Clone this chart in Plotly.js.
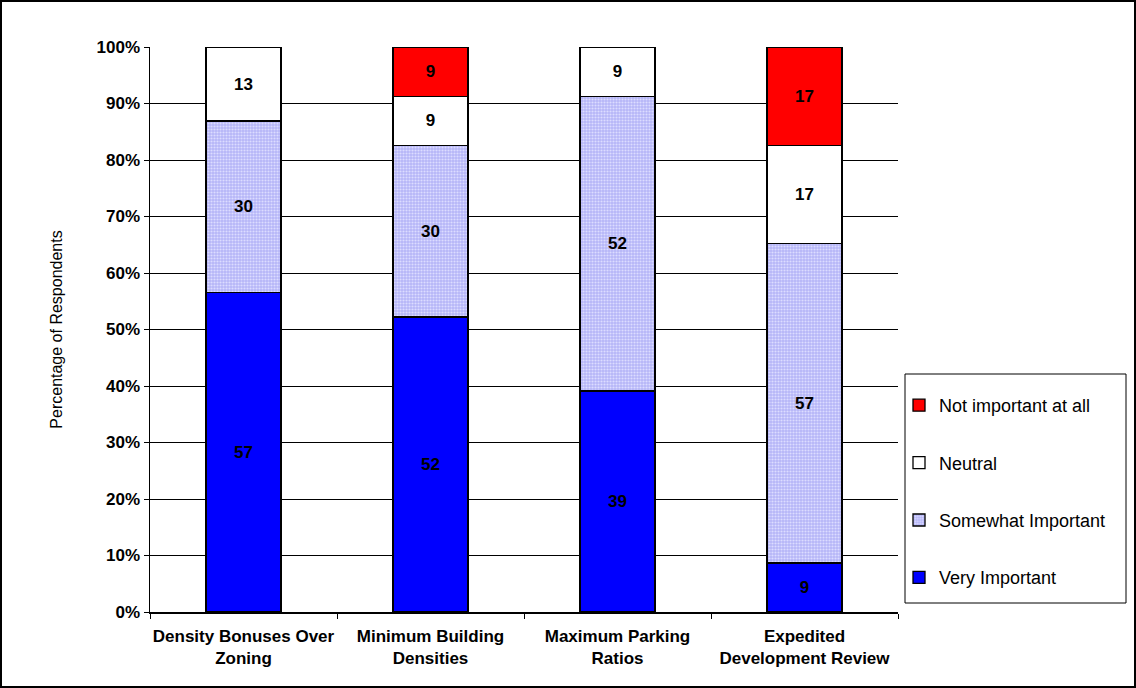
<!DOCTYPE html>
<html>
<head>
<meta charset="utf-8">
<script src="https://cdn.plot.ly/plotly-3.0.1.min.js"></script>
<style>
  html, body { margin: 0; padding: 0; background: #fff; }
  #frame { position: absolute; left: 0; top: 0; width: 1132px; height: 684px; border: 2px solid #000; pointer-events: none; }
  #chart { position: absolute; left: 0; top: 0; width: 1136px; height: 688px; }
</style>
</head>
<body>
<div id="chart"></div>
<div id="frame"></div>
<script>
const categories = [
  'Density Bonuses Over<br>Zoning',
  'Minimum Building<br>Densities',
  'Maximum Parking<br>Ratios',
  'Expedited<br>Development Review'
];
const veryImportant = [56.5, 52.2, 39.1, 8.7];
const somewhatImportant = [30.4, 30.4, 52.2, 56.5];
const neutral = [13.0, 8.7, 8.7, 17.4];
const notImportant = [null, 8.7, null, 17.4];
const yTickVals = [0, 10, 20, 30, 40, 50, 60, 70, 80, 90, 100];
const yTickText = ['0%', '10%', '20%', '30%', '40%', '50%', '60%', '70%', '80%', '90%', '100%'];

const FONT = 'Liberation Sans, Arial, sans-serif';
const lbl = arr => arr.map(v => (v == null ? '' : String(Math.round(v))));

function mk(name, vals, color, rank, extra) {
  const t = {
    type: 'bar', name: name, x: categories, y: vals,
    text: lbl(vals), textposition: 'inside', insidetextanchor: 'middle',
    textangle: 0, constraintext: 'none',
    textfont: { family: FONT, size: 17, color: '#000', weight: 'bold' },
    marker: { color: color, line: { color: '#000', width: 1.3 } },
    width: 0.4, legendgroup: name, legendrank: rank, hoverinfo: 'skip'
  };
  if (extra) Object.assign(t.marker, extra);
  return t;
}

const data = [
  mk('Very Important', veryImportant, '#0000ff', 4),
  mk('Somewhat Important', somewhatImportant, '#bcbcfa', 3,
     { pattern: { shape: '.', bgcolor: '#b6b6f8', fgcolor: '#dcdcff', size: 3, solidity: 0.4, fillmode: 'replace' } }),
  mk('Neutral', neutral, '#ffffff', 2),
  mk('Not important at all', notImportant, '#ff0000', 1)
];

const layout = {
  width: 1136, height: 688,
  margin: { l: 150, r: 238, t: 47, b: 76 },
  paper_bgcolor: '#fff', plot_bgcolor: '#fff',
  barmode: 'stack',
  showlegend: true,
  font: { family: FONT, size: 17, color: '#000' },
  xaxis: {
    tickson: 'boundaries', ticks: 'outside', ticklen: 5, tickcolor: '#000',
    showline: true, linecolor: '#000', linewidth: 1.5,
    showgrid: false, ticklabelstandoff: 8, tickangle: 0,
    tickfont: { family: FONT, size: 17, color: '#000', weight: 'bold' }
  },
  yaxis: {
    range: [0, 100], tickvals: yTickVals, ticktext: yTickText,
    ticks: 'outside', ticklen: 5, tickcolor: '#000',
    showline: true, linecolor: '#000', linewidth: 1.5,
    showgrid: true, gridcolor: '#000', gridwidth: 1,
    zeroline: false,
    tickfont: { family: FONT, size: 17, color: '#000', weight: 'bold' },
    title: { text: 'Percentage of Respondents', font: { family: FONT, size: 16, color: '#000' }, standoff: 30 }
  },
  legend: {
    x: (899 - 150) / 748, xanchor: 'left', y: (612 - 387) / 565, yanchor: 'top',
    borderwidth: 0, bgcolor: 'rgba(0,0,0,0)',
    traceorder: 'grouped', tracegroupgap: 31,
    font: { family: FONT, size: 18, color: '#000' },
    itemwidth: 30
  },
  shapes: [{
    type: 'rect', xref: 'paper', yref: 'paper',
    x0: (905 - 150) / 748, x1: (1126 - 150) / 748,
    y0: (612 - 603) / 565, y1: (612 - 374) / 565,
    line: { color: '#000', width: 1 }, fillcolor: 'rgba(0,0,0,0)', layer: 'below'
  }]
};

Plotly.newPlot('chart', data, layout, { displayModeBar: false, staticPlot: true });
</script>
</body>
</html>
